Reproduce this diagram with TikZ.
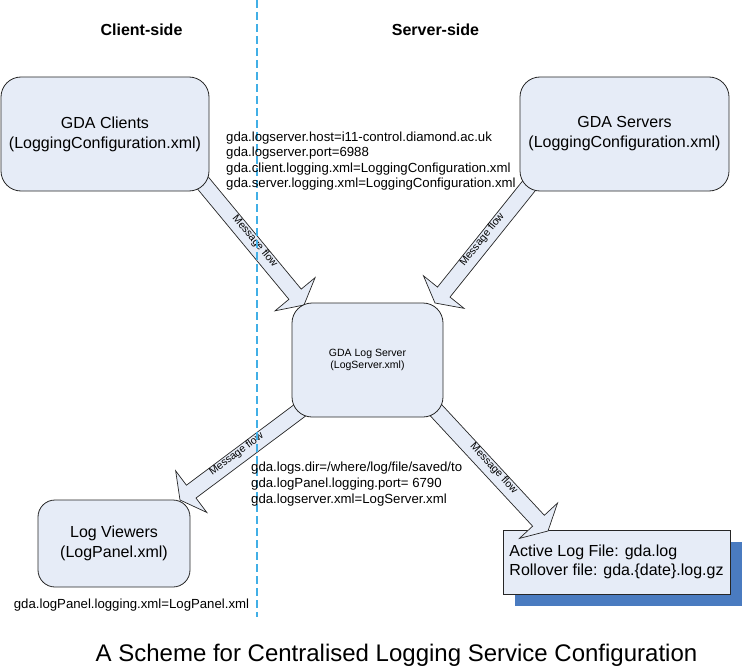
\documentclass[tikz,border=0pt]{standalone}
\usepackage{fontspec}
\setmainfont{Liberation Sans}
\usetikzlibrary{calc,shadows}

\definecolor{boxfill}{RGB}{230,236,247}
\definecolor{sideline}{RGB}{65,175,230}
\definecolor{shadowblue}{RGB}{74,123,192}

\newcommand{\boxfont}{\fontsize{16}{20}\selectfont}
\newcommand{\cfgfont}{\fontsize{13.2}{15.6}\selectfont}

% block arrow: start, tip, label position
\newcommand{\msgflow}[3]{%
    \coordinate (h) at ($(#2)!14pt!(#1)$);
    \filldraw[fill=boxfill, draw=black!85, line width=0.7pt]
        ($(#1)!8pt!90:(#2)$) -- ($(h)!8pt!90:(#2)$) -- ($(h)!26pt!90:(#2)$) -- (#2)
        -- ($(h)!26pt!-90:(#2)$) -- ($(h)!8pt!-90:(#2)$) -- ($(#1)!8pt!-90:(#2)$) -- cycle;
    \path (#1) -- (h) node[pos=#3, sloped, anchor=base, font=\fontsize{10.5}{12}\selectfont] {Message flow};
}

\begin{document}
\begin{tikzpicture}[x=1pt, y=-1pt]
\useasboundingbox (0,0) rectangle (742,669);

\node[draw=black!85, fill=boxfill, line width=0.8pt, minimum width=227pt, minimum height=64pt,
      align=left, font=\fontsize{16}{19}\selectfont,
      drop shadow={fill=shadowblue, opacity=1, shadow xshift=12pt, shadow yshift=-12pt}]
      (logfile) at (616.5,562) {Active Log File: gda.log\\Rollover file: gda.\{date\}.log.gz};

\coordinate (cl-out) at (193,171);
\coordinate (ls-in1) at (304,305);
\coordinate (sv-out) at (532,182);
\coordinate (ls-in2) at (435,303);
\coordinate (ls-out1) at (303,408);
\coordinate (lv-in) at (180,500);
\coordinate (ls-out2) at (433,407);
\coordinate (lf-in) at (548,531);

\msgflow{cl-out}{ls-in1}{0.585}
\msgflow{sv-out}{ls-in2}{0.54}
\msgflow{ls-out1}{lv-in}{0.58}
\msgflow{ls-out2}{lf-in}{0.557}

\coordinate (side-top) at (257,0);
\coordinate (side-bot) at (257,617);
\draw[sideline, line width=1.5pt, dash pattern=on 8pt off 4pt] (side-top) -- (side-bot);

\begin{scope}[every node/.style={draw=black!85, fill=boxfill, line width=0.8pt, rounded corners=20pt, align=center, font=\boxfont}]
    \node[minimum width=208pt, minimum height=114pt] (clients) at (105,134) {GDA Clients\\(LoggingConfiguration.xml)};
    \node[minimum width=209pt, minimum height=114pt] (servers) at (624.5,134) {GDA Servers\\(LoggingConfiguration.xml)};
    \node[minimum width=151pt, minimum height=114pt, font=\fontsize{10.5}{12.5}\selectfont] (logsrv) at (367.5,360) {GDA Log Server\\(LogServer.xml)};
    \node[minimum width=152pt, minimum height=87pt, rounded corners=17pt] (viewers) at (114,543.5) {Log Viewers\\(LogPanel.xml)};
\end{scope}

\begin{scope}[every node/.style={inner sep=0pt}]
    \node[font=\fontsize{16}{20}\selectfont\bfseries] (client-side) at (141.5,30) {Client-side};
    \node[font=\fontsize{16}{20}\selectfont\bfseries] (server-side) at (435.5,30) {Server-side};

    \node[anchor=west, align=left, font=\cfgfont] (clientcfg) at (226,161)
        {gda.logserver.host=i11-control.diamond.ac.uk\\gda.logserver.port=6988\\gda.client.logging.xml=LoggingConfiguration.xml\\gda.server.logging.xml=LoggingConfiguration.xml};
    \node[anchor=west, align=left, font=\fontsize{13.2}{16}\selectfont] (servercfg) at (251,484)
        {gda.logs.dir=/where/log/file/saved/to\\gda.logPanel.logging.port= 6790\\gda.logserver.xml=LogServer.xml};
    \node[font=\cfgfont] (viewercfg) at (131.5,605) {gda.logPanel.logging.xml=LogPanel.xml};

    \node[font=\fontsize{24}{28}\selectfont] (title) at (396.5,655) {A Scheme for Centralised Logging Service Configuration};
\end{scope}

\end{tikzpicture}
\end{document}
